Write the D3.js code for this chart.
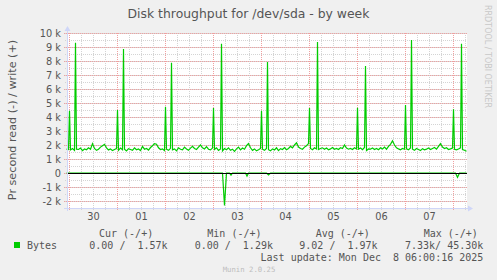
<!DOCTYPE html>
<html>
<head>
<meta charset="utf-8">
<script src="https://cdn.jsdelivr.net/npm/d3@7"></script>
<style>
body { margin: 0; background: #f0f0f0; }
svg text { font-family: "DejaVu Sans", sans-serif; fill: #555; }
svg text.mono { font-family: "DejaVu Sans Mono", monospace; white-space: pre; }
</style>
</head>
<body>
<svg id="chart" width="497" height="280"></svg>
<script>
var title = "Disk throughput for /dev/sda - by week";
var yTitle = "Pr second read (-) / write (+)";
var dayLabels = ["30", "01", "02", "03", "04", "05", "06", "07"];
var yTickValues = [-2, -1, 0, 1, 2, 3, 4, 5, 6, 7, 8, 9, 10];

// hours are counted from Sun Nov 30 00:00, values in k bytes/s
// write baseline, one value per hour starting at -1.5h
var writeBase = [
  1.70, 1.68,
  1.65, 1.75, 1.62, 1.70, 1.68, 1.78, 1.60, 1.72, 1.66, 1.80, 1.70, 2.10, 1.75, 1.62, 1.70, 1.85, 1.95, 2.05, 1.80, 1.65, 1.72, 1.60, 1.68, 1.75,
  1.62, 1.78, 1.66, 1.70, 1.58, 1.74, 1.68, 1.62, 1.80, 1.66, 1.72, 1.60, 1.90, 1.70, 1.75, 1.64, 1.82, 1.95, 2.10, 2.05, 1.80, 1.68, 1.72, 1.60,
  1.70, 1.62, 1.76, 1.66, 1.72, 1.58, 1.80, 1.70, 1.65, 1.85, 1.72, 1.62, 1.78, 1.90, 1.75, 1.68, 1.85, 2.00, 1.80, 1.72, 1.88, 1.70, 1.65, 1.78,
  1.68, 1.80, 1.62, 1.72, 1.58, 1.75, 1.66, 1.80, 1.62, 1.70, 1.55, 1.72, 1.85, 1.65, 1.78, 1.70, 1.95, 2.10, 1.80, 1.62, 1.72, 1.58, 1.66, 1.75,
  1.70, 1.62, 1.75, 1.66, 1.58, 1.72, 1.65, 1.80, 1.60, 1.74, 1.68, 1.82, 1.66, 1.75, 1.90, 1.80, 2.00, 2.15, 1.85, 1.75, 1.70, 1.85, 1.95, 2.10,
  1.75, 1.66, 1.80, 1.72, 1.68, 1.75, 1.80, 1.70, 1.78, 1.66, 1.72, 1.82, 1.70, 1.76, 1.68, 1.80, 1.75, 2.00, 1.78, 1.70, 1.76, 1.68, 1.80, 1.72,
  1.70, 1.78, 1.66, 1.82, 1.60, 1.72, 1.70, 1.78, 1.68, 1.75, 1.66, 1.80, 1.72, 1.85, 1.70, 1.90, 2.05, 2.30, 2.00, 1.80, 1.72, 1.66, 1.75, 1.70,
  1.72, 1.66, 1.78, 1.70, 1.62, 1.75, 1.68, 1.60, 1.74, 1.66, 1.70, 1.78, 1.68, 1.75, 1.82, 1.70, 1.90, 2.10, 1.85, 1.75, 1.80, 1.68, 1.72, 1.78,
  1.70, 1.65, 1.72, 1.80, 1.68, 1.62, 1.55
];
var writeStartHour = -1.5;

// nightly spikes in write
var writeSpikeHours = [0, 3, 24, 27, 48, 51, 72, 76, 96, 99, 120, 124, 144, 148, 168, 171, 192, 196];
var writeSpikeValues = [4.45, 9.3, 4.5, 8.86, 4.74, 7.88, 4.64, 9.24, 4.45, 7.93, 4.64, 9.36, 4.66, 7.64, 4.86, 9.5, 4.55, 9.24];

// read (drawn negative)
var readHours = [-1.5, 76.5, 77.5, 78.5, 80, 80.75, 81.5, 88, 88.75, 89.5, 98.5, 99.5, 100.5, 193, 194, 195, 198.5];
var readValues = [0, 0, -2.31, 0, 0, -0.15, 0, 0, -0.22, 0, 0, -0.14, 0, 0, -0.31, 0, 0];

var legendHead = ["Cur (-/+)", "Min (-/+)", "Avg (-/+)", "Max (-/+)"];
var legendVals = ["0.00 /  1.57k", "0.00 /  1.29k", "9.02 /  1.97k", "7.33k/ 45.30k"];
var lastUpdate = "Last update: Mon Dec  8 06:00:16 2025";

var svg = d3.select("#chart");
var plotL = 67, plotR = 467, plotT = 33, plotB = 208;

var t0 = Date.UTC(2025, 10, 30);
function hourDate(h) { return new Date(t0 + h * 3600e3); }

var x = d3.scaleUtc()
  .domain([hourDate(-1.25), hourDate(198.75)])
  .range([plotL, plotR]);
var y = d3.scaleLinear().domain([-2.5, 10]).range([plotB, plotT]);

svg.append("rect")
  .attr("x", plotL).attr("y", plotT)
  .attr("width", plotR - plotL).attr("height", plotB - plotT)
  .attr("fill", "#ffffff");

var grid = svg.append("g").attr("shape-rendering", "crispEdges");

// minor grid
x.ticks(d3.utcHour.every(6)).forEach(function(d) {
  grid.append("line")
    .attr("x1", Math.floor(x(d)) + 0.5).attr("x2", Math.floor(x(d)) + 0.5)
    .attr("y1", plotT).attr("y2", plotB + 2)
    .attr("stroke", "#d4d4d4").attr("stroke-dasharray", "1,1");
});
d3.range(-2.5, 10.01, 0.5).forEach(function(v) {
  grid.append("line")
    .attr("x1", plotL - 2).attr("x2", plotR)
    .attr("y1", Math.round(y(v)) + 0.5).attr("y2", Math.round(y(v)) + 0.5)
    .attr("stroke", "#d4d4d4").attr("stroke-dasharray", "1,1");
});
// major grid
x.ticks(d3.utcDay.every(1)).forEach(function(d) {
  grid.append("line")
    .attr("x1", Math.floor(x(d)) + 0.5).attr("x2", Math.floor(x(d)) + 0.5)
    .attr("y1", plotT).attr("y2", plotB + 3)
    .attr("stroke", "#f0a0a0").attr("stroke-dasharray", "1,1");
});
yTickValues.forEach(function(v) {
  grid.append("line")
    .attr("x1", plotL - 3).attr("x2", plotR)
    .attr("y1", Math.round(y(v)) + 0.5).attr("y2", Math.round(y(v)) + 0.5)
    .attr("stroke", "#f0a0a0").attr("stroke-dasharray", "1,1");
});

// y tick labels
svg.selectAll(".ylab").data(yTickValues).enter().append("text")
  .attr("x", 61)
  .attr("y", function(d) { return y(d) + 3.5; })
  .attr("text-anchor", "end")
  .attr("font-size", 9.8)
  .text(function(d) { return d === 0 ? "0" : d + " k"; });

// x labels at noon
svg.selectAll(".xlab").data(dayLabels).enter().append("text")
  .attr("x", function(d, i) { return x(hourDate(i * 24 + 12)); })
  .attr("y", 219.5)
  .attr("text-anchor", "middle")
  .attr("font-size", 9.8)
  .text(function(d) { return d; });

// series
var writePts = writeBase.map(function(v, i) { return [writeStartHour + i, v]; })
  .concat(writeSpikeHours.map(function(h, i) { return [h, writeSpikeValues[i]]; }))
  .sort(function(a, b) { return a[0] - b[0]; });
var readPts = readHours.map(function(h, i) { return [h, readValues[i]]; });

var line = d3.line()
  .x(function(d) { return x(hourDate(d[0])); })
  .y(function(d) { return y(d[1]); });

var plot = svg.append("g");
plot.append("path").datum(readPts)
  .attr("d", line).attr("fill", "none")
  .attr("stroke", "#00cc00").attr("stroke-width", 1.2);
plot.append("path").datum(writePts)
  .attr("d", line).attr("fill", "none")
  .attr("stroke", "#00cc00").attr("stroke-width", 1.2)
  .attr("stroke-linejoin", "miter");

// zero line
svg.append("line")
  .attr("x1", plotL).attr("x2", plotR)
  .attr("y1", y(0) + 0.5).attr("y2", y(0) + 0.5)
  .attr("stroke", "#000").attr("shape-rendering", "crispEdges");

// axes with arrows
var axisCol = "#cfd6f8";
svg.append("line").attr("x1", plotL + 0.5).attr("x2", plotL + 0.5)
  .attr("y1", plotB + 3).attr("y2", 29)
  .attr("stroke", axisCol).attr("shape-rendering", "crispEdges");
svg.append("line").attr("x1", plotL - 3).attr("x2", plotR + 3)
  .attr("y1", plotB + 0.5).attr("y2", plotB + 0.5)
  .attr("stroke", axisCol).attr("shape-rendering", "crispEdges");
svg.append("path").attr("d", "M64.5,31L67.5,26L70.5,31Z").attr("fill", axisCol);
svg.append("path").attr("d", "M468,205.5L473,208.5L468,211.5Z").attr("fill", axisCol);

// titles
svg.append("text")
  .attr("x", 248.5).attr("y", 17.5)
  .attr("text-anchor", "middle")
  .attr("font-size", 12.4)
  .text(title);

svg.append("text")
  .attr("transform", "translate(15.5,120) rotate(-90)")
  .attr("text-anchor", "middle")
  .attr("font-size", 11.2)
  .text(yTitle);

svg.append("text")
  .attr("transform", "translate(485,5) rotate(90)")
  .attr("font-size", 8)
  .style("fill", "#c8c8c8")
  .text("RRDTOOL / TOBI OETIKER");

// legend
svg.append("rect").attr("x", 14).attr("y", 242)
  .attr("width", 6).attr("height", 6).attr("fill", "#00cc00");
svg.append("text").attr("class", "mono")
  .attr("x", 27).attr("y", 249).attr("font-size", 10)
  .text("Bytes");

var headX = [99, 207.3, 315.7, 423.7];
var valX = [89.3, 194.7, 299.3, 405];
svg.selectAll(".lh").data(legendHead).enter().append("text")
  .attr("class", "mono")
  .attr("x", function(d, i) { return headX[i]; })
  .attr("y", 237.3).attr("font-size", 10)
  .text(function(d) { return d; });
svg.selectAll(".lv").data(legendVals).enter().append("text")
  .attr("class", "mono")
  .attr("x", function(d, i) { return valX[i]; })
  .attr("y", 249).attr("font-size", 10)
  .text(function(d) { return d; });

svg.append("text").attr("class", "mono")
  .attr("x", 483.3).attr("y", 261)
  .attr("text-anchor", "end").attr("font-size", 10)
  .text(lastUpdate);

svg.append("text").attr("class", "mono")
  .attr("x", 249).attr("y", 271.5)
  .attr("text-anchor", "middle").attr("font-size", 7.3)
  .style("fill", "#bdbdbd")
  .text("Munin 2.0.25");
</script>
</body>
</html>
